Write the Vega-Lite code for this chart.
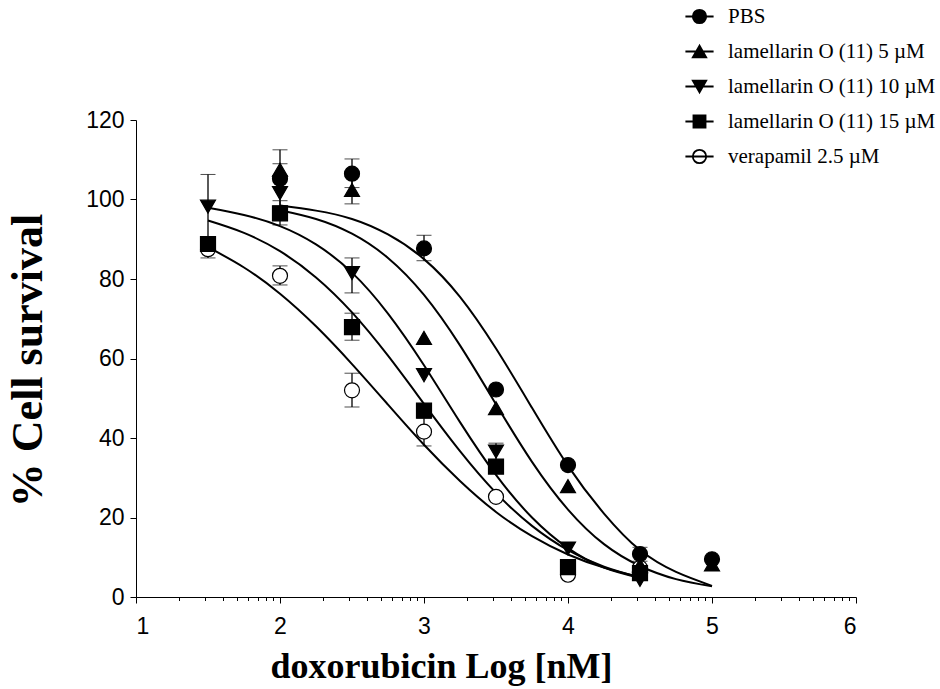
{
  "$schema": "https://vega.github.io/schema/vega-lite/v6.json",
  "autosize": {"type": "none"},
  "width": 720,
  "height": 477,
  "padding": {"left": 136, "top": 120, "right": 84, "bottom": 92},
  "background": "white",
  "config": {
    "view": {"stroke": null},
    "axis": {"domainColor": "black", "tickColor": "black", "labelColor": "black", "titleColor": "black", "grid": false}
  },
  "datasets": {
    "curves": [
      {"series": "PBS", "x": 2.0, "y": 98.5}, {"series": "PBS", "x": 2.25, "y": 97.2}, {"series": "PBS", "x": 2.5, "y": 95.1}, {"series": "PBS", "x": 2.75, "y": 91.2}, {"series": "PBS", "x": 3.0, "y": 85}, {"series": "PBS", "x": 3.25, "y": 75.5}, {"series": "PBS", "x": 3.5, "y": 62.5}, {"series": "PBS", "x": 3.75, "y": 47.6}, {"series": "PBS", "x": 4.0, "y": 33}, {"series": "PBS", "x": 4.25, "y": 21}, {"series": "PBS", "x": 4.5, "y": 11.8}, {"series": "PBS", "x": 4.75, "y": 6.3}, {"series": "PBS", "x": 5.0, "y": 2.8},
      {"series": "lamellarin O (11) 5 µM", "x": 2.0, "y": 97.3}, {"series": "lamellarin O (11) 5 µM", "x": 2.25, "y": 95.1}, {"series": "lamellarin O (11) 5 µM", "x": 2.5, "y": 91.4}, {"series": "lamellarin O (11) 5 µM", "x": 2.75, "y": 85.3}, {"series": "lamellarin O (11) 5 µM", "x": 3.0, "y": 76}, {"series": "lamellarin O (11) 5 µM", "x": 3.25, "y": 63.3}, {"series": "lamellarin O (11) 5 µM", "x": 3.5, "y": 48.5}, {"series": "lamellarin O (11) 5 µM", "x": 3.75, "y": 34}, {"series": "lamellarin O (11) 5 µM", "x": 4.0, "y": 22}, {"series": "lamellarin O (11) 5 µM", "x": 4.25, "y": 13.3}, {"series": "lamellarin O (11) 5 µM", "x": 4.5, "y": 7.8}, {"series": "lamellarin O (11) 5 µM", "x": 4.75, "y": 4.5}, {"series": "lamellarin O (11) 5 µM", "x": 5.0, "y": 2.7},
      {"series": "lamellarin O (11) 10 µM", "x": 1.5, "y": 97.9}, {"series": "lamellarin O (11) 10 µM", "x": 1.75, "y": 96.1}, {"series": "lamellarin O (11) 10 µM", "x": 2.0, "y": 93.3}, {"series": "lamellarin O (11) 10 µM", "x": 2.25, "y": 88.7}, {"series": "lamellarin O (11) 10 µM", "x": 2.5, "y": 81.6}, {"series": "lamellarin O (11) 10 µM", "x": 2.75, "y": 71.3}, {"series": "lamellarin O (11) 10 µM", "x": 3.0, "y": 58.3}, {"series": "lamellarin O (11) 10 µM", "x": 3.25, "y": 44}, {"series": "lamellarin O (11) 10 µM", "x": 3.5, "y": 30.7}, {"series": "lamellarin O (11) 10 µM", "x": 3.75, "y": 20}, {"series": "lamellarin O (11) 10 µM", "x": 4.0, "y": 12.3}, {"series": "lamellarin O (11) 10 µM", "x": 4.25, "y": 7.4}, {"series": "lamellarin O (11) 10 µM", "x": 4.5, "y": 4.8},
      {"series": "lamellarin O (11) 15 µM", "x": 1.5, "y": 94.7}, {"series": "lamellarin O (11) 15 µM", "x": 1.75, "y": 91.6}, {"series": "lamellarin O (11) 15 µM", "x": 2.0, "y": 87}, {"series": "lamellarin O (11) 15 µM", "x": 2.25, "y": 80.4}, {"series": "lamellarin O (11) 15 µM", "x": 2.5, "y": 71.6}, {"series": "lamellarin O (11) 15 µM", "x": 2.75, "y": 60.7}, {"series": "lamellarin O (11) 15 µM", "x": 3.0, "y": 48.6}, {"series": "lamellarin O (11) 15 µM", "x": 3.25, "y": 36.7}, {"series": "lamellarin O (11) 15 µM", "x": 3.5, "y": 26.2}, {"series": "lamellarin O (11) 15 µM", "x": 3.75, "y": 17.9}, {"series": "lamellarin O (11) 15 µM", "x": 4.0, "y": 11.8}, {"series": "lamellarin O (11) 15 µM", "x": 4.25, "y": 7.6}, {"series": "lamellarin O (11) 15 µM", "x": 4.5, "y": 4.9},
      {"series": "verapamil 2.5 µM", "x": 1.5, "y": 88}, {"series": "verapamil 2.5 µM", "x": 1.75, "y": 82.9}, {"series": "verapamil 2.5 µM", "x": 2.0, "y": 76.3}, {"series": "verapamil 2.5 µM", "x": 2.25, "y": 68.1}, {"series": "verapamil 2.5 µM", "x": 2.5, "y": 58.6}, {"series": "verapamil 2.5 µM", "x": 2.75, "y": 48.4}, {"series": "verapamil 2.5 µM", "x": 3.0, "y": 38.3}, {"series": "verapamil 2.5 µM", "x": 3.25, "y": 29.2}, {"series": "verapamil 2.5 µM", "x": 3.5, "y": 21.4}, {"series": "verapamil 2.5 µM", "x": 3.75, "y": 15.3}, {"series": "verapamil 2.5 µM", "x": 4.0, "y": 10.7}, {"series": "verapamil 2.5 µM", "x": 4.25, "y": 7.4}, {"series": "verapamil 2.5 µM", "x": 4.5, "y": 5}
    ],
    "points": [
      {"series": "verapamil 2.5 µM", "x": 1.5, "y": 87.5}, {"series": "verapamil 2.5 µM", "x": 2.0, "y": 80.8}, {"series": "verapamil 2.5 µM", "x": 2.5, "y": 52}, {"series": "verapamil 2.5 µM", "x": 3.0, "y": 41.6}, {"series": "verapamil 2.5 µM", "x": 3.5, "y": 25.2}, {"series": "verapamil 2.5 µM", "x": 4.0, "y": 5.6}, {"series": "verapamil 2.5 µM", "x": 4.5, "y": 7.3},
      {"series": "lamellarin O (11) 15 µM", "x": 1.5, "y": 88.8}, {"series": "lamellarin O (11) 15 µM", "x": 2.0, "y": 96.5}, {"series": "lamellarin O (11) 15 µM", "x": 2.5, "y": 67.9}, {"series": "lamellarin O (11) 15 µM", "x": 3.0, "y": 46.9}, {"series": "lamellarin O (11) 15 µM", "x": 3.5, "y": 32.8}, {"series": "lamellarin O (11) 15 µM", "x": 4.0, "y": 7.5}, {"series": "lamellarin O (11) 15 µM", "x": 4.5, "y": 6},
      {"series": "lamellarin O (11) 10 µM", "x": 1.5, "y": 98.2}, {"series": "lamellarin O (11) 10 µM", "x": 2.0, "y": 101.6}, {"series": "lamellarin O (11) 10 µM", "x": 2.5, "y": 81.5}, {"series": "lamellarin O (11) 10 µM", "x": 3.0, "y": 55.8}, {"series": "lamellarin O (11) 10 µM", "x": 3.5, "y": 36.6}, {"series": "lamellarin O (11) 10 µM", "x": 4.0, "y": 12.2}, {"series": "lamellarin O (11) 10 µM", "x": 4.5, "y": 4.3},
      {"series": "lamellarin O (11) 5 µM", "x": 2.0, "y": 107.5}, {"series": "lamellarin O (11) 5 µM", "x": 2.5, "y": 102.4}, {"series": "lamellarin O (11) 5 µM", "x": 3.0, "y": 65.2}, {"series": "lamellarin O (11) 5 µM", "x": 3.5, "y": 47.5}, {"series": "lamellarin O (11) 5 µM", "x": 4.0, "y": 27.9}, {"series": "lamellarin O (11) 5 µM", "x": 4.5, "y": 8}, {"series": "lamellarin O (11) 5 µM", "x": 5.0, "y": 8.2},
      {"series": "PBS", "x": 2.0, "y": 105.2}, {"series": "PBS", "x": 2.5, "y": 106.5}, {"series": "PBS", "x": 3.0, "y": 87.7}, {"series": "PBS", "x": 3.5, "y": 52.2}, {"series": "PBS", "x": 4.0, "y": 33.2}, {"series": "PBS", "x": 4.5, "y": 10.8}, {"series": "PBS", "x": 5.0, "y": 9.5}
    ],
    "errors": [
      {"series": "lamellarin O (11) 10 µM", "x": 1.5, "lo": 90.1, "hi": 106.3},
      {"series": "verapamil 2.5 µM", "x": 1.5, "lo": 85.3, "hi": 89.7},
      {"series": "PBS", "x": 2.0, "lo": 98.4, "hi": 112.5},
      {"series": "lamellarin O (11) 5 µM", "x": 2.0, "lo": 106, "hi": 109},
      {"series": "lamellarin O (11) 15 µM", "x": 2.0, "lo": 93.6, "hi": 99.7},
      {"series": "verapamil 2.5 µM", "x": 2.0, "lo": 78.5, "hi": 83.3},
      {"series": "PBS", "x": 2.5, "lo": 103, "hi": 110.2},
      {"series": "lamellarin O (11) 5 µM", "x": 2.5, "lo": 98.9, "hi": 105.9},
      {"series": "lamellarin O (11) 10 µM", "x": 2.5, "lo": 76.5, "hi": 85.3},
      {"series": "lamellarin O (11) 15 µM", "x": 2.5, "lo": 64.6, "hi": 71.4},
      {"series": "verapamil 2.5 µM", "x": 2.5, "lo": 47.8, "hi": 56.3},
      {"series": "PBS", "x": 3.0, "lo": 84.6, "hi": 91},
      {"series": "verapamil 2.5 µM", "x": 3.0, "lo": 38, "hi": 45},
      {"series": "lamellarin O (11) 10 µM", "x": 3.5, "lo": 34.5, "hi": 38.7},
      {"series": "PBS", "x": 4.5, "lo": 9, "hi": 12.5}
    ]
  },
  "layer": [
    {
      "data": {"name": "curves"},
      "mark": {"type": "line", "color": "black", "strokeWidth": 2, "interpolate": "natural"},
      "encoding": {
        "x": {"field": "x", "type": "quantitative", "scale": {"domain": [1, 6], "nice": false, "zero": false},
          "axis": {"orient": "bottom", "values": [1.30103, 1.47712, 1.60206, 1.69897, 1.77815, 1.8451, 1.90309, 1.95424, 2.30103, 2.47712, 2.60206, 2.69897, 2.77815, 2.8451, 2.90309, 2.95424, 3.30103, 3.47712, 3.60206, 3.69897, 3.77815, 3.8451, 3.90309, 3.95424, 4.30103, 4.47712, 4.60206, 4.69897, 4.77815, 4.8451, 4.90309, 4.95424, 5.30103, 5.47712, 5.60206, 5.69897, 5.77815, 5.8451, 5.90309, 5.95424], "labels": false, "domain": false, "tickSize": 3.5, "tickWidth": 1, "title": null}},
        "y": {"field": "y", "type": "quantitative", "scale": {"domain": [0, 120], "nice": false}, "title": "% Cell survival"},
        "detail": {"field": "series"}
      }
    },
    {
      "data": {"name": "errors"},
      "mark": {"type": "errorbar", "ticks": {"size": 15, "color": "black", "strokeWidth": 1.3}, "rule": {"color": "black", "strokeWidth": 1.3}},
      "encoding": {
        "x": {"field": "x", "type": "quantitative", "axis": null},
        "y": {"field": "lo", "type": "quantitative", "title": "% Cell survival"},
        "y2": {"field": "hi"}
      }
    },
    {
      "data": {"name": "points"},
      "mark": {"type": "point", "size": 225, "stroke": "black", "strokeWidth": 1.2, "opacity": 1, "filled": false},
      "encoding": {
        "x": {"field": "x", "type": "quantitative",
          "axis": {"orient": "bottom", "values": [1, 2, 3, 4, 5, 6], "format": "d", "tickSize": 6, "tickWidth": 1, "domainWidth": 1, "labelFont": "Liberation Sans", "labelFontSize": 23, "labelPadding": 12,
            "title": "doxorubicin Log [nM]", "titleFont": "Liberation Serif", "titleFontSize": 36, "titleFontWeight": "bold", "titleX": 305, "titleY": 80, "titleBaseline": "alphabetic", "titleAlign": "center", "titleAnchor": null}},
        "y": {"field": "y", "type": "quantitative", "title": "% Cell survival",
          "axis": {"values": [0, 20, 40, 60, 80, 100, 120], "tickSize": 6, "tickWidth": 1, "domainWidth": 1, "labelFont": "Liberation Sans", "labelFontSize": 23, "labelPadding": 6,
            "title": "% Cell survival", "titleFont": "Liberation Serif", "titleFontSize": 44, "titleFontWeight": "bold", "titleX": -108, "titleY": 240, "titleAngle": 270, "titleAlign": "center", "titleBaseline": "middle"}},
        "shape": {"field": "series", "type": "nominal",
          "scale": {"domain": ["PBS", "lamellarin O (11) 5 µM", "lamellarin O (11) 10 µM", "lamellarin O (11) 15 µM", "verapamil 2.5 µM"], "range": ["circle", "triangle-up", "triangle-down", "square", "circle"]},
          "legend": null},
        "fill": {"field": "series", "type": "nominal",
          "scale": {"domain": ["PBS", "lamellarin O (11) 5 µM", "lamellarin O (11) 10 µM", "lamellarin O (11) 15 µM", "verapamil 2.5 µM"], "range": ["black", "black", "black", "black", "white"]},
          "legend": null}
      }
    },
    {
      "data": {"name": "points"},
      "transform": [{"filter": "false"}],
      "mark": {"type": "point", "size": 180, "stroke": "black", "strokeWidth": 1.8, "opacity": 1, "filled": false},
      "encoding": {
        "x": {"field": "x", "type": "quantitative", "axis": null},
        "y": {"field": "y", "type": "quantitative", "title": "% Cell survival"},
        "shape": {"field": "series", "type": "nominal",
          "scale": {"domain": ["PBS", "lamellarin O (11) 5 µM", "lamellarin O (11) 10 µM", "lamellarin O (11) 15 µM", "verapamil 2.5 µM"],
            "range": ["M-2.1,0H2.1M1,0A1,1 0 1,1 -1,0A1,1 0 1,1 1,0Z", "M-2.1,0H2.1M0,-0.87L-1,0.87L1,0.87Z", "M-2.1,0H2.1M0,0.87L-1,-0.87L1,-0.87Z", "M-2.1,0H2.1M-0.9,-0.9H0.9V0.9H-0.9Z", "M-2.1,0H2.1M1,0A1,1 0 1,1 -1,0A1,1 0 1,1 1,0Z"]},
          "legend": {"orient": "none", "legendX": 553, "legendY": -114, "title": null, "labelFont": "Liberation Serif", "labelFontSize": 21, "labelColor": "black", "labelOffset": 18, "rowPadding": 13, "symbolSize": 180, "symbolStrokeWidth": 1.8, "labelLimit": 400}},
        "fill": {"field": "series", "type": "nominal",
          "scale": {"domain": ["PBS", "lamellarin O (11) 5 µM", "lamellarin O (11) 10 µM", "lamellarin O (11) 15 µM", "verapamil 2.5 µM"], "range": ["black", "black", "black", "black", "transparent"]},
          "legend": {"orient": "none", "legendX": 553, "legendY": -114, "title": null, "labelFont": "Liberation Serif", "labelFontSize": 21, "labelColor": "black", "labelOffset": 18, "rowPadding": 13, "symbolSize": 180, "symbolStrokeWidth": 1.8, "labelLimit": 400}}
      }
    }
  ],
  "resolve": {"axis": {"x": "independent"}, "scale": {"shape": "independent", "fill": "independent"}}
}
